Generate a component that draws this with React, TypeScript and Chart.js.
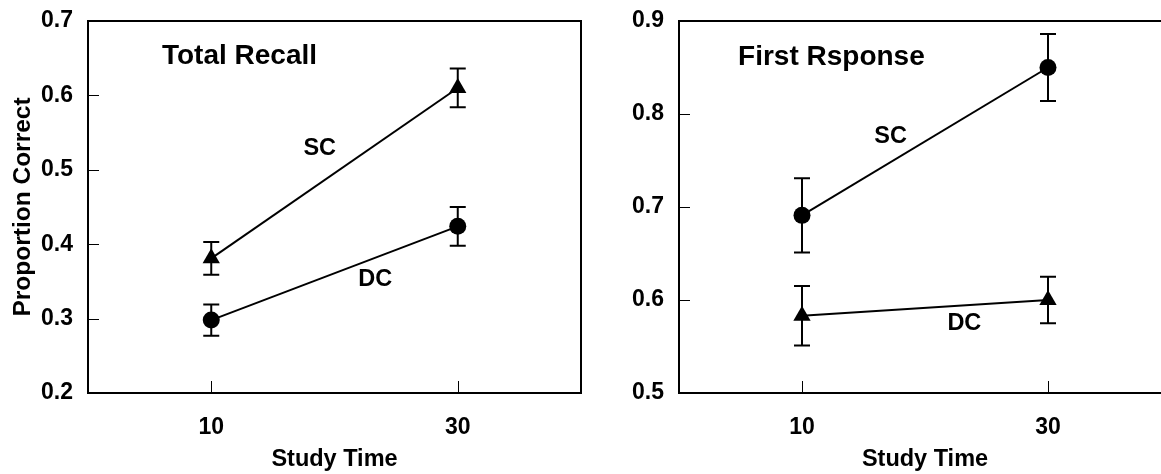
import React, { useEffect, useRef } from "react";
import { Chart, registerables } from "chart.js";
Chart.register(...registerables);

const FONT = "'Liberation Sans', Arial, Helvetica, sans-serif";

// shared x values
const studyTimes = [10, 30];
const xTickValues = [10, 30];

// Panel 1: Total Recall
const recallYTicks = [0.2, 0.3, 0.4, 0.5, 0.6, 0.7];
const recallSC = [0.381, 0.61];
const recallSCErr = [0.022, 0.026];
const recallDC = [0.298, 0.424];
const recallDCErr = [0.021, 0.026];
const recallNotes = [
  { text: "Total Recall", x: 6.0, y: 0.653, size: 28, align: "left" },
  { text: "SC", x: 18.8, y: 0.529, size: 23.5, align: "center" },
  { text: "DC", x: 23.3, y: 0.353, size: 23.5, align: "center" },
];

// Panel 2: First Rsponse
const firstYTicks = [0.5, 0.6, 0.7, 0.8, 0.9];
const firstSC = [0.691, 0.85];
const firstSCErr = [0.04, 0.036];
const firstDC = [0.583, 0.6];
const firstDCErr = [0.032, 0.025];
const firstNotes = [
  { text: "First Rsponse", x: 4.8, y: 0.861, size: 28, align: "left" },
  { text: "SC", x: 17.2, y: 0.776, size: 23.5, align: "center" },
  { text: "DC", x: 23.2, y: 0.575, size: 23.5, align: "center" },
];

const pts = (ys: number[]) => studyTimes.map((x, i) => ({ x, y: ys[i] }));

const panelPlugin = {
  id: "panelDecor",
  beforeDatasetsDraw(chart: any) {
    const { ctx } = chart;
    const xs = chart.scales.x;
    const ys = chart.scales.y;
    ctx.save();
    ctx.strokeStyle = "#000";
    ctx.lineWidth = 2;
    chart.data.datasets.forEach((ds: any) => {
      (ds.data as any[]).forEach((p: any, i: number) => {
        const e = ds.errors[i];
        const px = xs.getPixelForValue(p.x);
        const t = ys.getPixelForValue(p.y + e);
        const b = ys.getPixelForValue(p.y - e);
        ctx.beginPath();
        ctx.moveTo(px, t);
        ctx.lineTo(px, b);
        ctx.moveTo(px - 8, t);
        ctx.lineTo(px + 8, t);
        ctx.moveTo(px - 8, b);
        ctx.lineTo(px + 8, b);
        ctx.stroke();
      });
    });
    ctx.restore();
  },
  afterDraw(chart: any) {
    const { ctx, chartArea: a } = chart;
    const xs = chart.scales.x;
    const ys = chart.scales.y;
    ctx.save();
    ctx.strokeStyle = "#000";
    // inner ticks
    ctx.lineWidth = 1;
    ys.ticks.forEach((t: any) => {
      if (t.value <= ys.min + 1e-9 || t.value >= ys.max - 1e-9) return;
      const y = Math.round(ys.getPixelForValue(t.value)) + 0.5;
      ctx.beginPath();
      ctx.moveTo(a.left, y);
      ctx.lineTo(a.left + 11, y);
      ctx.stroke();
    });
    xs.ticks.forEach((t: any) => {
      const x = Math.round(xs.getPixelForValue(t.value)) + 0.5;
      ctx.beginPath();
      ctx.moveTo(x, a.bottom);
      ctx.lineTo(x, a.bottom - 12);
      ctx.stroke();
    });
    // frame
    ctx.lineWidth = 2;
    ctx.strokeRect(a.left, a.top, a.right - a.left, a.bottom - a.top);
    // annotations
    ctx.fillStyle = "#000";
    ctx.textBaseline = "middle";
    (chart.options.plugins.panelDecor.notes as any[]).forEach((n) => {
      ctx.font = `bold ${n.size}px ${FONT}`;
      ctx.textAlign = n.align;
      ctx.fillText(n.text, xs.getPixelForValue(n.x), ys.getPixelForValue(n.y));
    });
    ctx.restore();
  },
};

function makeConfig(p: {
  sc: number[]; scErr: number[]; scStyle: string;
  dc: number[]; dcErr: number[]; dcStyle: string;
  yTicks: number[]; yTitle: string | null; yWidth: number; padRight: number;
  notes: any[];
}) {
  const ds = (data: number[], errs: number[], style: string, label: string) => ({
    label,
    data: pts(data),
    errors: errs,
    borderColor: "#000",
    backgroundColor: "#000",
    borderWidth: 2,
    pointStyle: style,
    pointRadius: style === "triangle" ? 10 : 8.5,
    pointBorderWidth: 0,
    pointBackgroundColor: "#000",
    showLine: true,
    tension: 0,
  });
  return {
    type: "scatter",
    data: {
      datasets: [
        ds(p.sc, p.scErr, p.scStyle, "SC"),
        ds(p.dc, p.dcErr, p.dcStyle, "DC"),
      ],
    },
    options: {
      responsive: false,
      animation: false,
      devicePixelRatio: 1,
      layout: { padding: { top: 21, right: p.padRight, left: 0, bottom: 0 }, autoPadding: false },
      plugins: {
        legend: { display: false },
        tooltip: { enabled: false },
        panelDecor: { notes: p.notes },
      },
      scales: {
        x: {
          type: "linear",
          min: 0,
          max: 40,
          afterBuildTicks: (s: any) => { s.ticks = xTickValues.map((v) => ({ value: v })); },
          afterFit: (s: any) => { s.height = 81; s.paddingLeft = 0; s.paddingRight = 0; },
          grid: { display: false, drawTicks: false },
          border: { display: false },
          ticks: {
            color: "#000",
            padding: 21,
            maxRotation: 0,
            font: { family: FONT, size: 23, weight: "bold" },
            callback: (v: any) => String(v),
          },
          title: {
            display: true,
            text: "Study Time",
            color: "#000",
            font: { family: FONT, size: 23.5, weight: "bold" },
            padding: { top: 0, bottom: 0 },
          },
        },
        y: {
          type: "linear",
          min: p.yTicks[0],
          max: p.yTicks[p.yTicks.length - 1],
          afterBuildTicks: (s: any) => { s.ticks = p.yTicks.map((v) => ({ value: v })); },
          afterFit: (s: any) => { s.width = p.yWidth; s.paddingTop = 0; s.paddingBottom = 0; },
          grid: { display: false, drawTicks: false },
          border: { display: false },
          ticks: {
            color: "#000",
            padding: 15,
            font: { family: FONT, size: 23, weight: "bold" },
            callback: (v: any) => Number(v).toFixed(1),
          },
          title: {
            display: !!p.yTitle,
            text: p.yTitle || "",
            color: "#000",
            font: { family: FONT, size: 24.5, weight: "bold" },
            padding: { top: 9, bottom: 0 },
          },
        },
      },
    },
    plugins: [panelPlugin],
  } as any;
}

function Panel(props: { config: any; left: number }) {
  const ref = useRef<HTMLCanvasElement>(null);
  useEffect(() => {
    const c = new Chart(ref.current as HTMLCanvasElement, props.config);
    return () => c.destroy();
  }, []);
  return (
    <canvas
      ref={ref}
      width={600}
      height={474}
      style={{ position: "absolute", left: props.left, top: 0, width: 600, height: 474 }}
    />
  );
}

export default function App() {
  const left = makeConfig({
    sc: recallSC, scErr: recallSCErr, scStyle: "triangle",
    dc: recallDC, dcErr: recallDCErr, dcStyle: "circle",
    yTicks: recallYTicks, yTitle: "Proportion Correct", yWidth: 88, padRight: 19,
    notes: recallNotes,
  });
  const right = makeConfig({
    sc: firstSC, scErr: firstSCErr, scStyle: "circle",
    dc: firstDC, dcErr: firstDCErr, dcStyle: "triangle",
    yTicks: firstYTicks, yTitle: null, yWidth: 79, padRight: 29,
    notes: firstNotes,
  });
  return (
    <div
      style={{
        position: "fixed", left: 0, top: 0, width: 1161, height: 474,
        overflow: "hidden", background: "#fff",
      }}
    >
      <Panel config={left} left={0} />
      <Panel config={right} left={600} />
    </div>
  );
}
